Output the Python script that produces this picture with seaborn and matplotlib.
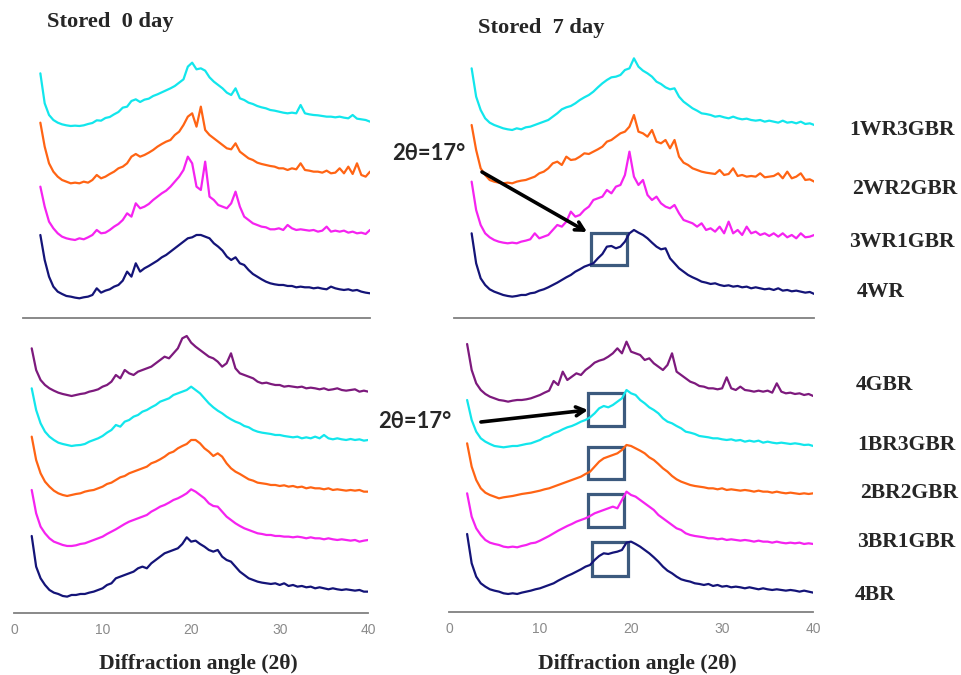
import numpy as np
import pandas as pd
import matplotlib.pyplot as plt
import seaborn as sns
from matplotlib.patches import Rectangle

# scan grid (2theta, degrees)
two_theta = np.arange(2, 40.5, 0.5)

# ---- stored 0 day, WR / GBR blends (a.u.) ----
d0_1wr3gbr = [158, 68, 33, 18, 10, 5, 2, 0, 1, 0,
              2, 6, 9, 17, 16, 24, 27, 35, 42, 55,
              58, 75, 80, 72, 79, 82, 90, 95, 101, 107,
              113, 120, 130, 140, 178, 190, 170, 173, 166, 146,
              133, 123, 113, 100, 93, 113, 83, 78, 70, 66,
              60, 56, 53, 48, 46, 43, 40, 38, 40, 38,
              63, 38, 35, 33, 32, 30, 28, 28, 26, 28,
              25, 23, 33, 22, 20, 18, 13]
d0_2wr2gbr = [182, 110, 60, 35, 20, 10, 5, 0, 2, 0,
              5, 2, 10, 25, 15, 20, 28, 35, 45, 50,
              60, 80, 88, 80, 85, 92, 100, 110, 118, 125,
              130, 145, 155, 175, 200, 210, 170, 230, 160, 145,
              135, 125, 115, 105, 102, 120, 95, 85, 75, 70,
              62, 58, 55, 52, 50, 45, 45, 40, 45, 42,
              60, 40, 38, 35, 35, 32, 38, 30, 32, 45,
              30, 50, 28, 60, 25, 20, 35]
d0_3wr1gbr = [160, 100, 55, 35, 20, 10, 5, 2, 0, 5,
              2, 8, 15, 30, 20, 22, 30, 40, 48, 60,
              80, 70, 110, 95, 100, 108, 120, 130, 140, 148,
              160, 175, 190, 210, 250, 230, 160, 150, 235, 130,
              120, 105, 100, 95, 110, 145, 100, 70, 60, 50,
              45, 40, 38, 32, 32, 35, 30, 45, 35, 30,
              32, 30, 28, 30, 25, 28, 40, 25, 28, 25,
              28, 22, 25, 20, 22, 18, 30]
d0_4wr = [190, 115, 65, 35, 20, 13, 7, 5, 2, 0,
          3, 5, 10, 30, 17, 23, 27, 35, 40, 53,
          80, 65, 105, 80, 90, 97, 105, 113, 123, 130,
          140, 150, 160, 170, 180, 183, 190, 190, 185, 180,
          165, 155, 143, 125, 115, 123, 105, 100, 85, 73,
          65, 57, 50, 45, 42, 40, 40, 37, 37, 33,
          35, 33, 33, 30, 32, 29, 27, 35, 30, 27,
          25, 27, 23, 25, 20, 17, 15]

# ---- stored 7 day, WR / GBR blends ----
d7_1wr3gbr = [185, 100, 60, 35, 22, 15, 10, 5, 2, 0,
              5, 2, 8, 10, 15, 20, 25, 30, 40, 50,
              62, 68, 72, 80, 90, 98, 105, 115, 128, 140,
              150, 158, 160, 165, 180, 185, 215, 190, 178, 170,
              160, 145, 138, 128, 122, 125, 100, 85, 75, 65,
              58, 50, 48, 45, 40, 42, 38, 35, 40, 35,
              32, 34, 30, 28, 30, 25, 28, 25, 22, 28,
              22, 24, 20, 25, 18, 20, 15]
d7_2wr2gbr = [175, 100, 45, 25, 10, 5, 2, 0, 2, 0,
              5, 8, 10, 15, 20, 30, 35, 45, 60, 65,
              55, 80, 70, 72, 80, 90, 88, 95, 102, 110,
              125, 130, 140, 150, 155, 170, 205, 155, 150, 140,
              160, 125, 120, 130, 105, 130, 80, 62, 55, 45,
              40, 35, 32, 30, 28, 40, 25, 28, 45, 22,
              25, 20, 22, 20, 30, 18, 20, 22, 30, 15,
              35, 15, 20, 30, 10, 12, 5]
d7_3wr1gbr = [185, 100, 55, 30, 18, 10, 5, 2, 0, 2,
              0, 5, 8, 12, 30, 15, 20, 25, 40, 55,
              50, 65, 95, 80, 85, 100, 110, 130, 135, 140,
              160, 150, 170, 175, 205, 275, 200, 175, 190, 145,
              130, 140, 120, 110, 105, 115, 90, 70, 65, 60,
              50, 60, 40, 45, 35, 50, 30, 65, 30, 40,
              25, 50, 30, 35, 25, 30, 22, 30, 20, 30,
              18, 25, 15, 30, 18, 20, 25]
d7_4wr = [190, 100, 55, 35, 22, 15, 10, 5, 2, 0,
          2, 5, 5, 10, 12, 18, 22, 28, 35, 42,
          50, 58, 65, 75, 82, 90, 95, 100, 115, 128,
          150, 152, 145, 150, 165, 190, 200, 192, 185, 175,
          162, 150, 142, 145, 115, 100, 85, 75, 65, 58,
          52, 45, 42, 38, 40, 35, 32, 34, 30, 32,
          28, 30, 25, 28, 25, 22, 24, 20, 25, 18,
          20, 16, 18, 15, 12, 14, 8]

# ---- stored 0 day, BR / GBR blends ----
d0_4gbr = [143, 78, 48, 33, 23, 16, 10, 6, 3, 0,
           3, 6, 8, 13, 16, 20, 28, 33, 43, 63,
           53, 78, 68, 63, 73, 78, 83, 88, 98, 108,
           118, 113, 128, 143, 173, 180, 160, 148, 138, 128,
           118, 113, 103, 88, 98, 128, 83, 68, 63, 58,
           53, 43, 38, 40, 36, 33, 33, 28, 30, 28,
           26, 28, 23, 25, 23, 20, 23, 18, 20, 23,
           18, 16, 18, 20, 13, 16, 13]
d0_1br3gbr = [173, 108, 68, 43, 28, 18, 10, 6, 3, 0,
              2, 3, 6, 13, 18, 23, 30, 40, 48, 63,
              58, 73, 78, 88, 93, 103, 108, 116, 123, 133,
              138, 143, 153, 158, 163, 168, 178, 168, 158, 143,
              128, 116, 106, 98, 88, 80, 73, 68, 60, 56,
              48, 43, 40, 38, 36, 33, 33, 30, 28, 26,
              28, 23, 26, 23, 28, 23, 33, 23, 20, 23,
              20, 18, 21, 18, 20, 16, 18]
d0_2br2gbr = [178, 108, 68, 43, 28, 16, 8, 3, 0, 3,
              6, 8, 13, 16, 18, 23, 28, 36, 40, 48,
              56, 60, 68, 73, 78, 83, 88, 98, 103, 110,
              118, 128, 133, 143, 150, 156, 168, 168, 158, 143,
              133, 120, 128, 118, 98, 83, 73, 66, 58, 50,
              46, 40, 38, 36, 33, 33, 30, 32, 28, 30,
              26, 28, 23, 26, 23, 23, 20, 23, 18, 20,
              18, 16, 18, 16, 18, 13, 13]
d0_3br1gbr = [168, 98, 58, 38, 23, 13, 8, 3, 0, 0,
              2, 6, 8, 13, 18, 23, 28, 36, 43, 50,
              58, 66, 73, 78, 83, 88, 93, 103, 110, 118,
              123, 130, 138, 143, 150, 158, 170, 163, 153, 143,
              128, 120, 118, 103, 88, 78, 68, 60, 53, 48,
              43, 38, 36, 33, 33, 30, 30, 28, 28, 26,
              28, 26, 23, 26, 23, 23, 20, 23, 20, 18,
              20, 18, 16, 18, 13, 16, 18]
d0_4br = [182, 90, 55, 35, 20, 12, 8, 2, 0, 5,
          5, 8, 8, 12, 15, 20, 25, 35, 40, 55,
          60, 65, 70, 75, 85, 90, 85, 100, 110, 120,
          130, 135, 140, 145, 158, 178, 165, 168, 158, 150,
          140, 135, 140, 120, 110, 105, 90, 75, 65, 55,
          50, 45, 42, 40, 38, 40, 35, 40, 32, 35,
          30, 32, 28, 30, 25, 28, 25, 22, 25, 22,
          20, 22, 20, 18, 20, 15, 15]

# ---- stored 7 day, BR / GBR blends ----
d7_4gbr = [173, 95, 55, 35, 23, 15, 10, 5, 3, 0,
           3, 5, 5, 7, 10, 15, 20, 27, 33, 62,
           50, 90, 65, 75, 85, 80, 95, 105, 117, 123,
           127, 135, 145, 160, 145, 180, 150, 145, 140, 125,
           130, 115, 105, 95, 110, 145, 90, 80, 70, 60,
           55, 47, 45, 40, 40, 37, 40, 73, 40, 35,
           45, 35, 33, 30, 33, 30, 33, 27, 55, 30,
           25, 27, 23, 25, 20, 23, 17]
d7_1br3gbr = [142, 82, 47, 27, 17, 10, 4, 2, 0, 2,
              4, 4, 7, 10, 12, 17, 22, 30, 34, 42,
              47, 54, 60, 64, 70, 77, 82, 90, 102, 117,
              124, 120, 127, 137, 147, 172, 162, 157, 142, 132,
              120, 112, 102, 87, 77, 72, 64, 57, 47, 44,
              40, 34, 32, 30, 27, 27, 24, 22, 24, 20,
              22, 17, 20, 17, 20, 14, 17, 14, 12, 14,
              12, 10, 12, 10, 7, 8, 4]
d7_2br2gbr = [165, 95, 55, 30, 17, 10, 5, 0, 3, 5,
              7, 10, 13, 15, 17, 20, 23, 27, 30, 35,
              40, 45, 50, 55, 60, 65, 73, 80, 95, 110,
              120, 125, 130, 135, 145, 160, 157, 150, 143, 135,
              123, 115, 103, 90, 80, 67, 57, 50, 45, 40,
              37, 35, 33, 30, 30, 27, 30, 25, 27, 25,
              23, 25, 23, 20, 23, 20, 20, 17, 20, 17,
              15, 17, 15, 13, 15, 13, 15]
d7_3br1gbr = [162, 92, 57, 37, 22, 14, 10, 7, 2, 0,
              2, 0, 4, 7, 12, 14, 20, 27, 34, 42,
              50, 57, 64, 70, 77, 82, 87, 94, 102, 107,
              112, 117, 122, 117, 142, 167, 157, 152, 142, 132,
              122, 112, 97, 87, 77, 67, 57, 52, 42, 37,
              34, 32, 30, 27, 27, 24, 26, 22, 24, 22,
              20, 22, 20, 17, 20, 17, 17, 14, 17, 14,
              12, 14, 12, 14, 10, 12, 10]
d7_4br = [180, 92, 52, 32, 22, 14, 10, 7, 2, 0,
          2, 0, 4, 7, 10, 14, 17, 22, 27, 32,
          40, 47, 54, 60, 67, 74, 82, 87, 102, 114,
          122, 120, 124, 127, 132, 154, 157, 150, 142, 132,
          122, 110, 97, 82, 70, 62, 52, 44, 40, 37,
          32, 30, 27, 30, 24, 27, 22, 24, 20, 22,
          20, 17, 20, 17, 14, 17, 14, 12, 14, 12,
          10, 12, 10, 7, 10, 7, 4]

names_wr = ['1WR3GBR', '2WR2GBR', '3WR1GBR', '4WR']
names_br = ['4GBR', '1BR3GBR', '2BR2GBR', '3BR1GBR', '4BR']
colors_wr = ['#12e6ec', '#ff6414', '#f523f0', '#141478']
colors_br = ['#7d1a7d', '#12e6ec', '#ff6414', '#f523f0', '#141478']

# vertical stacking offsets
offsets_tl = [577, 405, 235, 60]
offsets_tr = [565, 405, 225, 65]
offsets_bl = [652, 502, 352, 202, 50]
offsets_br = [632, 495, 342, 195, 55]

sns.set_style('white')
serif = ['Liberation Serif', 'DejaVu Serif']
sans = ['Lato', 'DejaVu Sans']
narrow = ['Liberation Sans Narrow', 'Liberation Sans', 'DejaVu Sans']

W, H = 961, 675
fig = plt.figure(figsize=(W / 100, H / 100), dpi=100)


def px_axes(left, right, bottom, top):
    return fig.add_axes([left / W, 1 - bottom / H, (right - left) / W, (bottom - top) / H])


def draw_panel(ax, series, names, offsets, colors, ytop, ticklabels):
    frames = []
    for vals, name, off in zip(series, names, offsets):
        frames.append(pd.DataFrame({'two_theta': two_theta,
                                    'intensity': np.array(vals) + off,
                                    'sample': name}))
    df = pd.concat(frames)
    sns.lineplot(data=df, x='two_theta', y='intensity', hue='sample',
                 palette=dict(zip(names, colors)), estimator=None,
                 lw=1.6, legend=False, ax=ax)
    ax.set_xlim(0, 40)
    ax.set_ylim(0, ytop)
    ax.set_xticks([0, 10, 20, 30, 40])
    ax.set_yticks([])
    ax.set_xlabel('')
    ax.set_ylabel('')
    for s in ['top', 'left', 'right']:
        ax.spines[s].set_visible(False)
    ax.spines['bottom'].set_color('#808080')
    ax.spines['bottom'].set_linewidth(1.3)
    ax.tick_params(axis='x', direction='in', length=3, width=1, color='#808080',
                   labelsize=10, labelcolor='#8a8a8a', pad=7,
                   labelbottom=ticklabels)
    for t in ax.get_xticklabels():
        t.set_family(narrow)
    ax.patch.set_alpha(0)


ax_tl = px_axes(23, 370, 318.3, 50)
ax_tr = px_axes(453.6, 814.3, 318.3, 50)
ax_bl = px_axes(14, 368.3, 613.3, 325)
ax_br = px_axes(448.9, 813.2, 612.3, 325)

draw_panel(ax_tl, [d0_1wr3gbr, d0_2wr2gbr, d0_3wr1gbr, d0_4wr],
           names_wr, offsets_tl, colors_wr, 805, False)
draw_panel(ax_tr, [d7_1wr3gbr, d7_2wr2gbr, d7_3wr1gbr, d7_4wr],
           names_wr, offsets_tr, colors_wr, 805, False)
draw_panel(ax_bl, [d0_4gbr, d0_1br3gbr, d0_2br2gbr, d0_3br1gbr, d0_4br],
           names_br, offsets_bl, colors_br, 865, True)
draw_panel(ax_br, [d7_4gbr, d7_1br3gbr, d7_2br2gbr, d7_3br1gbr, d7_4br],
           names_br, offsets_br, colors_br, 862, True)

# boxes around the 17 degree shoulder
box_col = '#3c5a7e'
ax_tr.add_patch(Rectangle((15.2, 161), 4.0, 96, fill=False, ec=box_col, lw=2.3))
for (bx, by, bw, bh) in [(15.3, 559, 3.95, 98), (15.3, 399, 3.95, 98),
                         (15.3, 255, 3.95, 99), (15.7, 109, 3.95, 101)]:
    ax_br.add_patch(Rectangle((bx, by), bw, bh, fill=False, ec=box_col, lw=2.3))

arrow = dict(arrowstyle='->,head_length=0.6,head_width=0.32', lw=2.6, color='black',
             shrinkA=0, shrinkB=0)
ax_tr.annotate('', xy=(14.8, 259), xytext=(3.15, 439), arrowprops=arrow)
ax_br.annotate('', xy=(15.27, 607), xytext=(3.52, 571), arrowprops=arrow)

fig.text(392 / W, 1 - 153 / H, '2θ=17°', ha='left', va='center', fontsize=15.8,
         fontweight='bold', family=sans)
fig.text(378 / W, 1 - 422 / H, '2θ=17°', ha='left', va='center', fontsize=15.8,
         fontweight='bold', family=sans)

# titles and axis labels
fig.text(47 / W, 1 - 22 / H, 'Stored  0 day', ha='left', va='center', fontsize=16.2,
         fontweight='bold', family=serif)
fig.text(478 / W, 1 - 28 / H, 'Stored  7 day', ha='left', va='center', fontsize=16.2,
         fontweight='bold', family=serif)
fig.text(198 / W, 1 - 664 / H, 'Diffraction angle (2θ)', ha='center', va='center',
         fontsize=15.6, fontweight='bold', family=serif)
fig.text(637 / W, 1 - 664 / H, 'Diffraction angle (2θ)', ha='center', va='center',
         fontsize=15.6, fontweight='bold', family=serif)

# sample labels on the right
label_pos = [('1WR3GBR', 849, 130), ('2WR2GBR', 852, 189), ('3WR1GBR', 849, 242),
             ('4WR', 857, 292), ('4GBR', 856, 385), ('1BR3GBR', 857, 445),
             ('2BR2GBR', 860, 493), ('3BR1GBR', 857, 542), ('4BR', 855, 595)]
for txt, lx, ly in label_pos:
    fig.text(lx / W, 1 - ly / H, txt, ha='left', va='center', fontsize=15.6,
             fontweight='bold', family=serif)

fig.savefig('out.png', dpi=100)
